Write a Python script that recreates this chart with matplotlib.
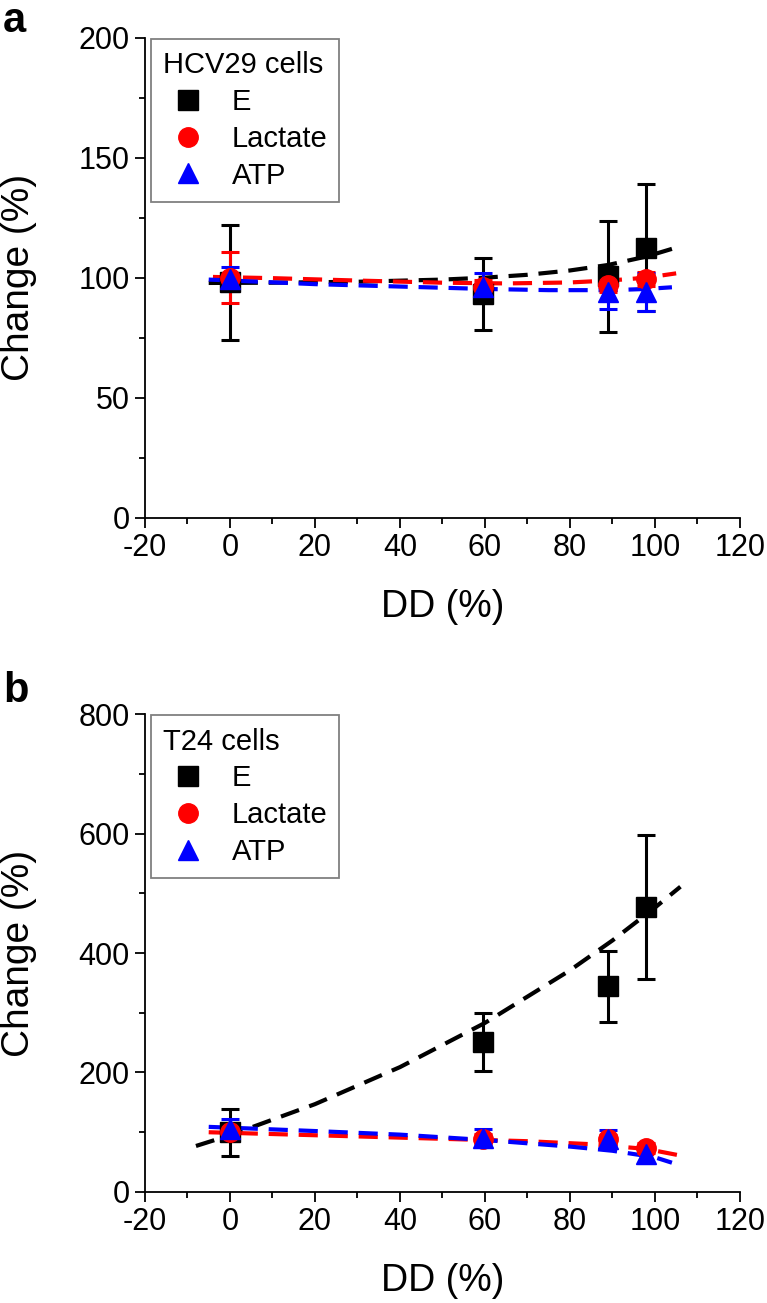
import numpy as np
import matplotlib.pyplot as plt
from matplotlib.ticker import MultipleLocator

plt.rcParams['font.family'] = ['Liberation Sans', 'DejaVu Sans']
plt.rcParams['axes.unicode_minus'] = False

# DD (%) positions of the four samples
dd = [0, 59.6, 88.9, 97.8]

# panel a: HCV29 cells
a_E = [98, 93, 100.5, 112.5]
a_E_err = [24, 15, 23, 26.5]
a_lac = [100, 96, 97, 99.5]
a_lac_err = [10.5, 3, 3, 3]
a_atp = [99.5, 96, 94, 94]
a_atp_err = [5, 6, 7, 8]

# fitted trend curves
a_fitE_x = [-5, 10, 30, 50, 60, 70, 80, 89, 98, 104]
a_fitE_y = [97.8, 97.9, 98.3, 99.2, 100.0, 101.2, 103.0, 105.3, 108.8, 112.0]
a_fitL_x = [-4, 10, 30, 50, 65, 80, 90, 98, 105]
a_fitL_y = [100.3, 99.8, 98.8, 97.9, 97.6, 98.0, 98.9, 100.0, 101.8]
a_fitA_x = [-5, 20, 40, 60, 75, 90, 98, 104]
a_fitA_y = [99.2, 97.3, 96.3, 95.3, 94.8, 94.8, 95.3, 96.0]

# panel b: T24 cells
b_E = [100, 251, 344, 477]
b_E_err = [39, 49, 60, 121]
b_lac = [100, 89, 88, 74]
b_lac_err = [12, 8, 8, 8]
b_atp = [106, 90, 88, 63]
b_atp_err = [16, 15, 15, 15]

b_fitE_x = [-8, 0, 20, 40, 60, 80, 90, 100, 106]
b_fitE_y = [77, 95, 147, 209, 283, 371, 421, 476, 511]
b_fitL_x = [-5, 10, 30, 50, 70, 85, 98, 106]
b_fitL_y = [100, 97, 93, 89, 85, 80, 72, 61]
b_fitA_x = [-5, 20, 40, 60, 80, 90, 100, 104]
b_fitA_y = [109, 102, 96, 87, 76, 69, 58, 49]

series_names = ['E', 'Lactate', 'ATP']
colors = ['black', 'red', 'blue']
markers = ['s', 'o', '^']


def draw_panel(ax, vals, errs, fits, ylim, ymaj, title):
    handles = []
    for (fx, fy), c in zip(fits, colors):
        ax.plot(fx, fy, color=c, lw=3, dashes=(4.6, 2.6), zorder=2)
    for v, e, c, m, name in zip(vals, errs, colors, markers, series_names):
        ax.errorbar(dd, v, yerr=e, fmt='none', ecolor=c, elinewidth=2.2,
                    capsize=6.5, capthick=2.2, zorder=3)
        h, = ax.plot(dd, v, m, color=c, ms=14, ls='none', label=name, zorder=4)
        handles.append(h)
    ax.set_xlim(-20, 120)
    ax.set_ylim(*ylim)
    ax.xaxis.set_major_locator(MultipleLocator(20))
    ax.xaxis.set_minor_locator(MultipleLocator(10))
    ax.yaxis.set_major_locator(MultipleLocator(ymaj))
    ax.yaxis.set_minor_locator(MultipleLocator(ymaj / 2))
    for s in ['top', 'right']:
        ax.spines[s].set_visible(False)
    for s in ['left', 'bottom']:
        ax.spines[s].set_linewidth(1.3)
    ax.tick_params(which='major', length=7, width=1.3, labelsize=22, pad=4)
    ax.tick_params(which='minor', length=4, width=1.3)
    ax.set_xlabel('DD (%)', fontsize=27)
    ax.set_ylabel('Change (%)', fontsize=28)
    ax.xaxis.set_label_coords(0.5, -0.187)
    ax.xaxis.label.set_va('center')
    ax.yaxis.set_label_coords(-0.212, 0.5)
    ax.yaxis.label.set_va('center')
    leg = ax.legend(handles=handles, title=title, loc='upper left',
                    bbox_to_anchor=(0.0096, 0.997), borderaxespad=0,
                    fontsize=21, title_fontsize=21, handlelength=1.75,
                    handletextpad=0.6, labelspacing=0.3, borderpad=0.42,
                    fancybox=False, edgecolor='#808080', framealpha=1,
                    alignment='left', markerscale=1.0)
    leg.get_frame().set_linewidth(1.3)


fig = plt.figure(figsize=(7.67, 13.03), dpi=100)
ax_a = fig.add_axes([0.189, 0.6027, 0.7757, 0.3684])
ax_b = fig.add_axes([0.189, 0.0852, 0.7757, 0.3668])

draw_panel(ax_a, [a_E, a_lac, a_atp], [a_E_err, a_lac_err, a_atp_err],
           [(a_fitE_x, a_fitE_y), (a_fitL_x, a_fitL_y), (a_fitA_x, a_fitA_y)],
           (0, 200), 50, 'HCV29 cells')
draw_panel(ax_b, [b_E, b_lac, b_atp], [b_E_err, b_lac_err, b_atp_err],
           [(b_fitE_x, b_fitE_y), (b_fitL_x, b_fitL_y), (b_fitA_x, b_fitA_y)],
           (0, 800), 200, 'T24 cells')

fig.text(0.004, 0.9755, 'a', fontsize=30, fontweight='bold', va='baseline')
fig.text(0.004, 0.4612, 'b', fontsize=30, fontweight='bold', va='baseline')

fig.savefig('out.png', dpi=100)
